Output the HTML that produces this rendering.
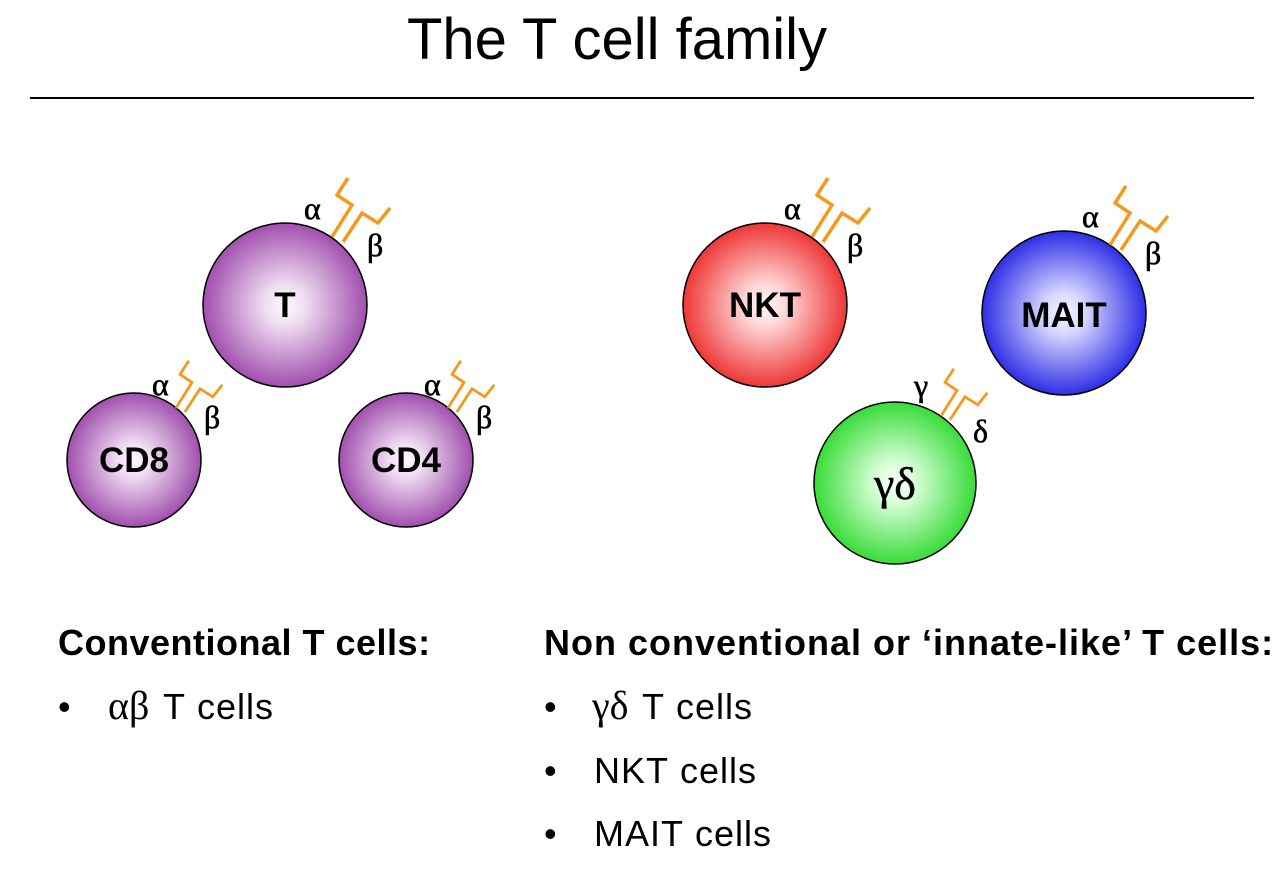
<!DOCTYPE html>
<html><head><meta charset="utf-8"><style>
body{margin:0;width:1284px;height:882px;background:#fff;overflow:hidden;position:relative;font-family:"Liberation Sans",sans-serif}
.t{position:absolute;white-space:nowrap;color:#000}
.g{font-family:'Liberation Serif',serif;font-size:40px}
</style></head><body>
<div class="t" style="left:0;width:1234px;text-align:center;top:6px;font-size:58px">The T cell family</div>
<div style="position:absolute;left:30px;top:97px;width:1224px;height:2px;background:#000"></div>
<svg width="1284" height="882" style="position:absolute;left:0;top:0">
<defs>
<radialGradient id="p"><stop offset="0" stop-color="#fdf8fd"/><stop offset="0.25" stop-color="#f0ddf2"/><stop offset="1" stop-color="#a04fad"/></radialGradient>
<radialGradient id="r"><stop offset="0" stop-color="#fff8f8"/><stop offset="0.25" stop-color="#ffd8d8"/><stop offset="1" stop-color="#ee3636"/></radialGradient>
<radialGradient id="b"><stop offset="0" stop-color="#f6f6ff"/><stop offset="0.25" stop-color="#d8d8ff"/><stop offset="1" stop-color="#2e2ee6"/></radialGradient>
<radialGradient id="g"><stop offset="0" stop-color="#f8fff8"/><stop offset="0.25" stop-color="#d8ffd8"/><stop offset="1" stop-color="#38dc38"/></radialGradient>
<g id="rc" fill="none" stroke="#f39a1e" stroke-width="3.5">
<polyline points="0,0 20,-32 5,-42 16,-59"/>
<polyline points="11,5 30,-24 46,-14 58,-29"/>
</g>
</defs>
<g stroke="#000" stroke-width="1.5">
<circle cx="285" cy="305" r="82" fill="url(#p)"/>
<circle cx="134" cy="460" r="67" fill="url(#p)"/>
<circle cx="406" cy="460" r="67" fill="url(#p)"/>
<circle cx="765" cy="305" r="82" fill="url(#r)"/>
<circle cx="1064" cy="313" r="82" fill="url(#b)"/>
<circle cx="895" cy="483" r="81" fill="url(#g)"/>
</g>
<use href="#rc" transform="translate(332,237)"/>
<use href="#rc" transform="translate(812,237)"/>
<use href="#rc" transform="translate(1110,245)"/>
<use href="#rc" transform="translate(176,408) scale(0.8)"/>
<use href="#rc" transform="translate(448,408) scale(0.8)"/>
<use href="#rc" transform="translate(941,416) scale(0.8)"/>
<g font-family="Liberation Serif,serif" font-size="32" stroke="#000" stroke-width="0.6">
<text x="304" y="219">α</text><text x="367" y="256">β</text>
<text x="784" y="219">α</text><text x="847" y="256">β</text>
<text x="1082" y="227">α</text><text x="1145" y="264">β</text>
<text x="152" y="395">α</text><text x="204" y="428">β</text>
<text x="424" y="395">α</text><text x="476" y="428">β</text>
<text x="914" y="396">γ</text><text x="973" y="442">δ</text>
</g>
<g font-weight="bold" font-size="35" text-anchor="middle">
<text x="285" y="317">T</text>
<text x="134" y="472">CD8</text>
<text x="406" y="472">CD4</text>
<text x="765" y="317">NKT</text>
<text x="1064" y="327">MAIT</text>
<text x="895" y="499" font-family="Liberation Serif,serif" font-weight="normal" font-size="46" stroke="#000" stroke-width="0.5">γδ</text>
</g>
</svg>
<div class="t" style="left:58px;top:622px;font-size:36px;font-weight:bold;letter-spacing:0.5px">Conventional T cells:</div>
<div class="t" style="left:544px;top:622px;font-size:36px;font-weight:bold;letter-spacing:1px">Non conventional or ‘innate-like’ T cells:</div>
<div class="t" style="left:58px;top:686px;font-size:36px">•<span class="g" style="position:absolute;left:50px;top:-4px">αβ</span><span style="position:absolute;left:105px;letter-spacing:1px">T&nbsp;cells</span></div>
<div class="t" style="left:544px;top:686px;font-size:36px">•<span class="g" style="position:absolute;left:48px;top:-4px">γδ</span><span style="position:absolute;left:98px;letter-spacing:1px">T&nbsp;cells</span></div>
<div class="t" style="left:544px;top:750px;font-size:36px">•<span style="position:absolute;left:50px;letter-spacing:1px">NKT&nbsp;cells</span></div>
<div class="t" style="left:544px;top:813px;font-size:36px">•<span style="position:absolute;left:50px;letter-spacing:1px">MAIT&nbsp;cells</span></div>
</body></html>
